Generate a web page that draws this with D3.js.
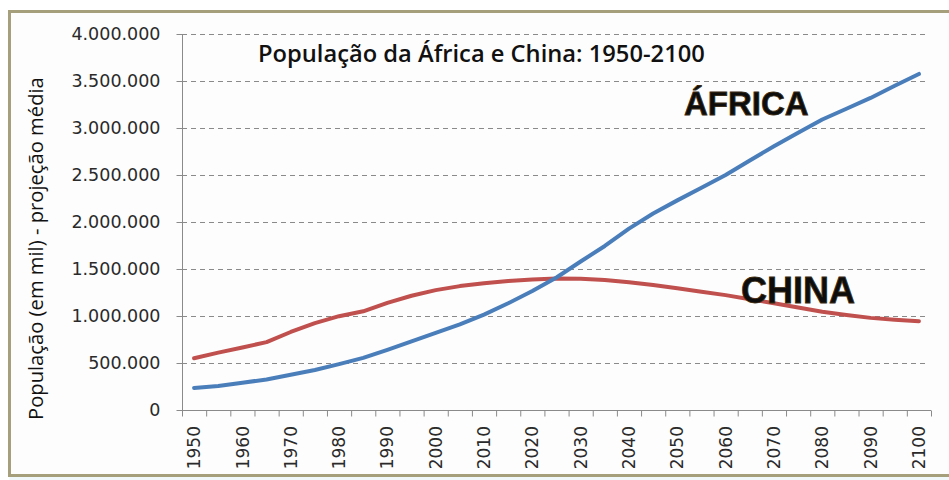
<!DOCTYPE html>
<html>
<head>
<meta charset="utf-8">
<script src="https://cdn.jsdelivr.net/npm/d3@7"></script>
<style>
  html, body { margin: 0; padding: 0; background: #ffffff; }
  svg { display: block; }
</style>
</head>
<body>
<svg id="chart" width="949" height="480"></svg>
<script>
// ---- data (population in thousands, medium projection) ----
const years = [1950, 1955, 1960, 1965, 1970, 1975, 1980, 1985, 1990, 1995,
               2000, 2005, 2010, 2015, 2020, 2025, 2030, 2035, 2040, 2045,
               2050, 2055, 2060, 2065, 2070, 2075, 2080, 2085, 2090, 2095, 2100];
const africa = [235000, 255000, 290000, 325000, 375000, 425000, 488000, 555000, 640000, 730000,
                820000, 910000, 1015000, 1135000, 1265000, 1410000, 1580000, 1745000, 1930000, 2090000,
                2230000, 2365000, 2500000, 2655000, 2805000, 2950000, 3090000, 3205000, 3320000, 3450000, 3575000];
const china  = [550000, 610000, 665000, 722000, 830000, 925000, 998000, 1050000, 1140000, 1215000,
                1275000, 1318000, 1348000, 1372000, 1388000, 1398000, 1397000, 1382000, 1360000, 1330000,
                1295000, 1258000, 1222000, 1178000, 1136000, 1090000, 1045000, 1010000, 980000, 960000, 945000];
const yTicks = [0, 500000, 1000000, 1500000, 2000000, 2500000, 3000000, 3500000, 4000000];
const xLabelYears = [1950, 1960, 1970, 1980, 1990, 2000, 2010, 2020, 2030, 2040,
                     2050, 2060, 2070, 2080, 2090, 2100];
const title = "População da África e China: 1950-2100";
const yTitle = "População (em mil) - projeção média";
const seriesLabels = ["ÁFRICA", "CHINA"];

// ---- layout ----
const svg = d3.select("#chart");
const L = 182, R = 931, T = 34, B = 410;

// frame
svg.append("rect").attr("x", 0).attr("y", 0).attr("width", 949).attr("height", 480).attr("fill", "#ffffff");
svg.append("rect").attr("x", 9.5).attr("y", 475).attr("width", 940).attr("height", 6).attr("fill", "#f1f8f9");
svg.append("rect").attr("x", 9.5).attr("y", 11.5).attr("width", 960).attr("height", 464)
   .attr("fill", "#fdfdfd").attr("stroke", "#a59f7c").attr("stroke-width", 3);

const x = d3.scaleBand().domain(years).range([L, R]).padding(0);
const xEdge = d3.scaleLinear().domain([0, years.length]).range([L, R]);
const y = d3.scaleLinear().domain([0, 4000000]).range([B, T]);
const cx = d => x(d) + x.bandwidth() / 2;

const loc = d3.formatLocale({decimal: ",", thousands: ".", grouping: [3], currency: ["", ""]});
const fmt = loc.format(",");

// gridlines
svg.append("g").selectAll("line").data(yTicks.filter(d => d > 0)).join("line")
  .attr("x1", L).attr("x2", R - 4)
  .attr("y1", d => Math.round(y(d)) + 0.5).attr("y2", d => Math.round(y(d)) + 0.5)
  .attr("stroke", "#8a8a8a").attr("stroke-width", 1).attr("stroke-dasharray", "5,4");

// y axis
const yAxis = svg.append("g").attr("transform", `translate(${L + 0.5},0)`)
  .call(d3.axisLeft(y).tickValues(yTicks).tickSize(6).tickPadding(16).tickFormat(fmt));
yAxis.select(".domain").attr("stroke", "#8a8a8a").attr("d", `M-0,${T}V${B}`);
yAxis.selectAll(".tick line").attr("stroke", "#8a8a8a");
yAxis.selectAll("text").attr("font-family", "DejaVu Sans").attr("font-size", 17.5).attr("fill", "#2a2a2a");

// x axis tick marks at category edges
const xTickAxis = svg.append("g").attr("transform", `translate(0,${B + 0.5})`)
  .call(d3.axisBottom(xEdge).tickValues(d3.range(0, years.length + 1)).tickSize(6).tickFormat(""));
xTickAxis.select(".domain").attr("stroke", "#8a8a8a").attr("d", `M${L},0H${R}`);
xTickAxis.selectAll(".tick line").attr("stroke", "#8a8a8a");

// x labels
svg.append("g").selectAll("text").data(xLabelYears).join("text")
  .attr("transform", d => `translate(${cx(d)},${B + 16}) rotate(-90)`)
  .attr("text-anchor", "end").attr("dy", "0.36em")
  .attr("font-family", "DejaVu Sans").attr("font-size", 17).attr("fill", "#2a2a2a")
  .text(d => d);

// lines
const line = d3.line().x((d, i) => cx(years[i])).y(d => y(d));
svg.append("path").datum(china).attr("d", line).attr("fill", "none")
  .attr("stroke", "#c0504d").attr("stroke-width", 4).attr("stroke-linejoin", "round").attr("stroke-linecap", "round");
svg.append("path").datum(africa).attr("d", line).attr("fill", "none")
  .attr("stroke", "#4a7ebb").attr("stroke-width", 4).attr("stroke-linejoin", "round").attr("stroke-linecap", "round");

// title
const t = svg.append("text").attr("x", 258).attr("y", 62)
  .attr("font-family", "Open Sans").attr("font-weight", 600).attr("font-size", 20).attr("fill", "#111")
  .text(title);
const tw = t.node().getComputedTextLength();
t.attr("font-size", 20 * 447 / tw);

// y title
const yt = svg.append("text").attr("transform", "translate(43,420) rotate(-90)")
  .attr("font-family", "Open Sans").attr("font-size", 18).attr("fill", "#111")
  .text(yTitle);
const yw = yt.node().getComputedTextLength();
yt.attr("font-size", 18 * 343 / yw);

// series labels
svg.append("text").attr("x", 684).attr("y", 115)
  .attr("font-family", "Liberation Sans").attr("font-weight", "bold").attr("font-size", 33)
  .attr("fill", "#0d0d0d").attr("stroke", "#3a2a10").attr("stroke-width", 0.8)
  .text(seriesLabels[0]);
svg.append("text").attr("x", 741).attr("y", 303)
  .attr("font-family", "Liberation Sans").attr("font-weight", "bold").attr("font-size", 36)
  .attr("fill", "#0d0d0d").attr("stroke", "#3a2a10").attr("stroke-width", 0.8)
  .text(seriesLabels[1]);
</script>
</body>
</html>
